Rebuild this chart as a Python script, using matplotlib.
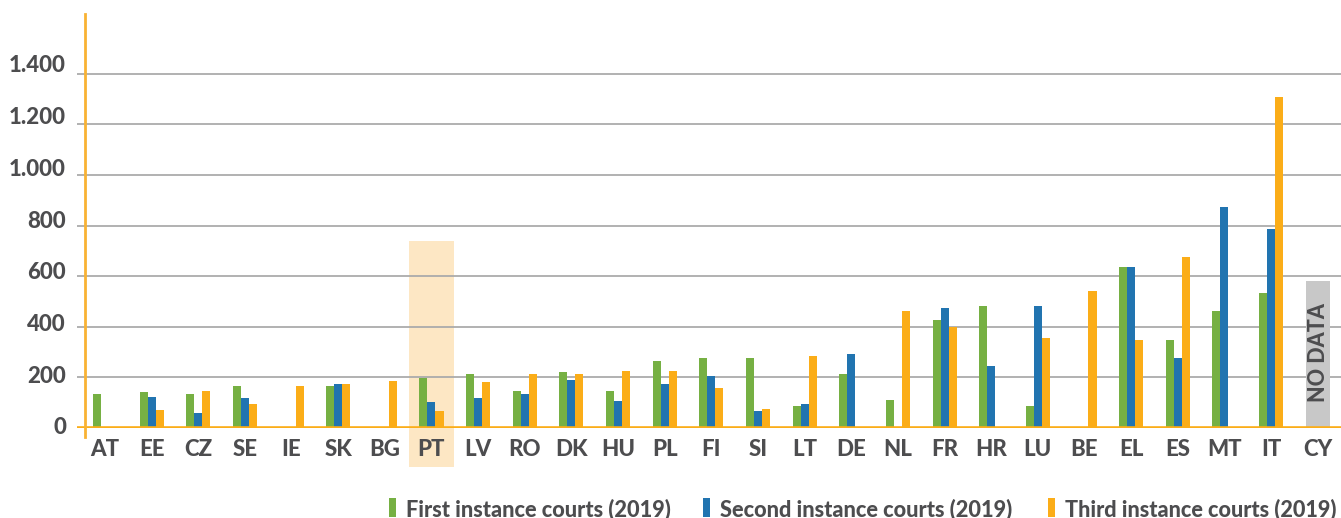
import numpy as np
import matplotlib
matplotlib.use("Agg")
import matplotlib.pyplot as plt
from matplotlib.patches import Rectangle
from matplotlib.transforms import blended_transform_factory

nan = np.nan

# country codes in plotted order
countries = ["AT", "EE", "CZ", "SE", "IE", "SK", "BG", "PT", "LV", "RO", "DK", "HU", "PL", "FI",
             "SI", "LT", "DE", "NL", "FR", "HR", "LU", "BE", "EL", "ES", "MT", "IT", "CY"]

first_instance = [135, 143, 135, 167, nan, 167, nan, 199, 215, 147, 223, 147, 266, 278,
                  278, 88, 215, 112, 428, 483, 88, nan, 637, 349, 463, 534, nan]
second_instance = [nan, 124, 61, 120, nan, 175, nan, 104, 120, 136, 191, 108, 175, 207,
                   68, 96, 294, nan, 475, 246, 483, nan, 637, 278, 874, 787, nan]
third_instance = [nan, 72, 147, 96, 167, 175, 187, 68, 183, 215, 215, 227, 227, 159,
                  76, 286, nan, 463, 401, nan, 357, 542, 349, 676, nan, 1308, nan]

series_labels = ["First instance courts (2019)", "Second instance courts (2019)",
                 "Third instance courts (2019)"]
series_colors = ["#76B043", "#2174B0", "#FBAD18"]

highlight = "PT"
no_data = "CY"
no_data_height = 582
highlight_top = 739

yticks = [0, 200, 400, 600, 800, 1000, 1200, 1400]
ytick_labels = ["0", "200", "400", "600", "800", "1.000", "1.200", "1.400"]

TXT = "#4D4D4F"
W, H = 1341, 518
FONT = ["Lato", "DejaVu Sans"]

fig = plt.figure(figsize=(W / 100, H / 100), dpi=100)
ax = fig.add_axes([77 / W, 90 / H, (W - 77) / W, (428 - 13) / H])

x = np.arange(len(countries))
bw = 0.172

# highlight band behind Portugal
ip = countries.index(highlight)
ax.add_patch(Rectangle((ip - 0.49, -155), 0.98, highlight_top + 155, color="#FDE7C4",
                       lw=0, zorder=0, clip_on=False))

for k, (vals, col) in enumerate(zip([first_instance, second_instance, third_instance], series_colors)):
    ax.bar(x + (k - 1) * bw, np.array(vals, dtype=float), width=bw, color=col, zorder=3, lw=0)

# no data box
ic = countries.index(no_data)
ax.bar(ic, no_data_height, width=0.52, color="#C8C8C8", zorder=3, lw=0)
ax.text(ic + 0.02, 300, "NO DATA", rotation=90, ha="center", va="center", color=TXT,
        fontsize=15.5, fontweight="black", family=FONT, zorder=4)

ax.set_xlim(-0.6, 26.5)
ax.set_ylim(0, 1640)
ax.set_yticks(yticks)
ax.set_yticklabels([])
ax.set_xticks(x)
ax.set_xticklabels(countries)
ax.tick_params(length=0, labelsize=16, labelcolor=TXT)
ax.tick_params(axis="x", pad=8)
for lab in ax.get_xticklabels():
    lab.set_fontweight("black")
    lab.set_family(FONT)

# y labels: in the original they sit a touch higher than their gridlines as they go up
tr = blended_transform_factory(ax.transAxes, ax.transData)
for v, lab in zip(yticks, ytick_labels):
    ax.text(-11 / (W - 77), v * 1.022, lab, transform=tr, ha="right", va="center",
            color=TXT, fontsize=16, fontweight="black", family=FONT)

ax.grid(axis="y", color="#ABABAB", lw=1.3, zorder=1)
for s in ax.spines.values():
    s.set_visible(False)
ax.axhline(0, color="#FBAD18", lw=2.6, zorder=5)
ax.plot([-0.43, -0.43], [-35, 1635], color="#F9B233", lw=2, clip_on=False, zorder=5)

# legend drawn by hand; text sized to the width it has in the original
mk_x = [389, 703, 1048]
fit_w = [266, 294, 273]
renderer = fig.canvas.get_renderer()
for lab, col, mx, fw in zip(series_labels, series_colors, mk_x, fit_w):
    fig.add_artist(Rectangle((mx / W, (H - 517) / H), 7 / W, 19 / H, color=col,
                             transform=fig.transFigure, lw=0))
    t = fig.text((mx + 17) / W, (H - 516) / H, lab, ha="left", va="baseline", color=TXT,
                 fontsize=15, fontweight="black", family=FONT)
    w = t.get_window_extent(renderer).width
    t.set_fontsize(15 * fw / w)

fig.savefig("out.png", dpi=100)
